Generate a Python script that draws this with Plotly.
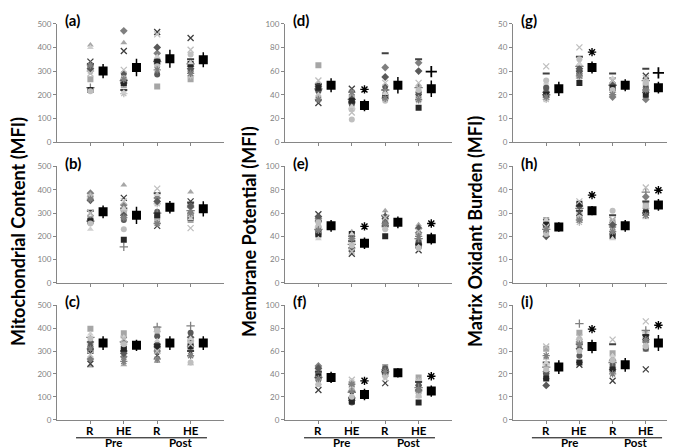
import plotly.graph_objects as go

# ---------------- data ----------------
group_positions = [1, 2, 3, 4]
group_labels = ["R", "HE", "R", "HE"]
phase_labels = ["Pre", "Post"]
panel_labels = ["(a)", "(b)", "(c)", "(d)", "(e)", "(f)", "(g)", "(h)", "(i)"]
column_titles = ["Mitochondrial Content (MFI)", "Membrane Potential (MFI)", "Matrix Oxidant Burden (MFI)"]
y_max = [500, 500, 500, 100, 100, 100, 50, 50, 50]
y_step = [100, 100, 100, 20, 20, 20, 10, 10, 10]

subject_symbols = ["diamond", "square", "triangle-up", "x-thin-open", "asterisk-open", "circle",
                   "cross-thin-open", "line-ew-open", "diamond", "square", "triangle-up",
                   "x-thin-open", "circle", "asterisk-open"]
subject_colors = ["#7f7f7f", "#a6a6a6", "#a6a6a6", "#404040", "#bfbfbf", "#595959",
                  "#808080", "#404040", "#595959", "#262626", "#d0d0d0",
                  "#bfbfbf", "#bfbfbf", "#7f7f7f"]

# per subject: [Pre R, Pre HE, Post R, Post HE]
a_vals = [[300, 470, 375, 320], [265, 240, 235, 265], [410, 420, 350, 340], [340, 385, 465, 440],
          [300, 205, 330, 280], [320, 290, 285, 300], [230, 260, 340, 330], [330, 220, 345, 350],
          [310, 250, 400, 310], [220, 250, 340, 330], [400, 210, 360, 335], [290, 305, 455, 390],
          [215, 270, 320, 370], [325, 265, 305, 290]]
b_vals = [[385, 335, 365, 325], [275, 300, 280, 270], [380, 420, 355, 390], [300, 365, 245, 350],
          [370, 310, 340, 300], [270, 270, 305, 295], [265, 155, 300, 310], [310, 320, 385, 345],
          [355, 290, 350, 330], [265, 185, 290, 280], [230, 320, 380, 275], [300, 350, 405, 235],
          [255, 230, 260, 290], [360, 280, 255, 300]]
c_vals = [[265, 275, 300, 320], [398, 378, 395, 340], [235, 240, 255, 245], [245, 350, 280, 290],
          [330, 330, 385, 345], [320, 310, 365, 380], [360, 340, 405, 410], [310, 300, 320, 300],
          [340, 290, 330, 360], [300, 310, 320, 320], [375, 360, 345, 355], [285, 355, 300, 330],
          [355, 330, 390, 250], [310, 255, 265, 280]]
d_vals = [[47, 33, 63, 67], [65, 38, 40, 40], [50, 40, 45, 48], [33, 45, 42, 38],
          [48, 28, 38, 35], [43, 32, 47, 42], [45, 36, 44, 46], [49, 34, 75, 70],
          [44, 36, 55, 60], [46, 35, 38, 29], [40, 30, 41, 37], [52, 25, 50, 50],
          [38, 19, 35, 44], [36, 42, 37, 36]]
e_vals = [[55, 40, 55, 43], [41, 38, 50, 36], [50, 44, 62, 50], [59, 25, 53, 28],
          [48, 35, 48, 40], [42, 28, 52, 35], [46, 33, 58, 38], [53, 36, 49, 33],
          [57, 30, 57, 47], [42, 42, 40, 32], [38, 42, 47, 31], [50, 27, 56, 44],
          [52, 32, 46, 30], [45, 38, 51, 40]]
f_vals = [[47, 25, 44, 26], [43, 30, 46, 37], [41, 27, 43, 24], [26, 22, 32, 28],
          [39, 33, 40, 34], [35, 15, 45, 30], [37, 24, 42, 28], [42, 19, 43, 33],
          [45, 17, 41, 25], [38, 16, 40, 15], [30, 29, 39, 20], [33, 35, 36, 22],
          [31, 20, 38, 21], [36, 31, 42, 26]]
g_vals = [[21, 30, 19, 18], [22, 28, 23, 24], [24, 33, 25, 27], [19, 31, 26, 28],
          [18, 27, 21, 22], [23, 29, 22, 23], [20, 32, 24, 26], [29, 36, 29, 31],
          [21, 31, 24, 21], [20, 25, 23, 20], [25, 33, 27, 25], [32, 40, 26, 27],
          [26, 35, 22, 25], [19, 28, 20, 22]]
h_vals = [[25, 33, 24, 37], [27, 29, 26, 34], [26, 28, 23, 33], [26, 30, 27, 29],
          [24, 26, 22, 32], [22, 34, 21, 31], [23, 32, 25, 39], [25, 31, 29, 35],
          [20, 33, 25, 30], [25, 34, 20, 30], [27, 27, 19, 28], [24, 35, 27, 41],
          [21, 28, 31, 33], [23, 27, 22, 29]]
i_vals = [[21, 34, 26, 34], [31, 38, 29, 31], [27, 36, 27, 33], [19, 24, 17, 22],
          [24, 35, 23, 38], [20, 28, 24, 31], [23, 42, 25, 39], [25, 33, 33, 37],
          [15, 31, 22, 35], [18, 25, 22, 36], [25, 34, 28, 33], [32, 36, 35, 43],
          [22, 30, 26, 32], [28, 33, 20, 35]]

a_mean, a_err = [300, 315, 352, 348], [30, 37, 38, 32]
b_mean, b_err = [305, 290, 325, 318], [27, 37, 27, 33]
c_mean, c_err = [335, 325, 335, 335], [30, 25, 30, 30]
d_mean, d_err = [48, 31, 48, 45], [6, 5, 7, 7]
e_mean, e_err = [49, 34, 52, 38], [5, 5, 5, 5]
f_mean, f_err = [37, 22, 41, 25], [5, 5, 4, 5]
g_mean, g_err = [22.5, 31.5, 24, 23], [3, 2.5, 2.5, 2.5]
h_mean, h_err = [24, 31, 24.5, 33.5], [2, 2, 2.5, 2.5]
i_mean, i_err = [23, 32, 24, 33.5], [3, 3, 3, 3.5]

# significance marks: (group index, symbol, y value)
d_sig = [(1, "*", 44.5), (3, "+", 59.5)]
e_sig = [(1, "*", 48.5), (3, "*", 51)]
f_sig = [(1, "*", 34), (3, "*", 38)]
g_sig = [(1, "*", 38), (3, "+", 29.2)]
h_sig = [(1, "*", 37.7), (3, "*", 39.8)]
i_sig = [(1, "*", 39.6), (3, "*", 41.3)]

panels = [
    (a_vals, a_mean, a_err, []), (b_vals, b_mean, b_err, []), (c_vals, c_mean, c_err, []),
    (d_vals, d_mean, d_err, d_sig), (e_vals, e_mean, e_err, e_sig), (f_vals, f_mean, f_err, f_sig),
    (g_vals, g_mean, g_err, g_sig), (h_vals, h_mean, h_err, h_sig), (i_vals, i_mean, i_err, i_sig),
]

# ---------------- layout geometry ----------------
W, H = 675, 448
col_x = [(49, 216), (277, 444), (505, 671)]
row_y = [(11, 132), (157, 276), (299, 416)]
mean_offset = 0.38
FONT = "Lato, 'Open Sans', sans-serif"

fig = go.Figure()
layout = dict(
    width=W, height=H, margin=dict(l=0, r=0, t=0, b=0),
    paper_bgcolor="white", plot_bgcolor="white", showlegend=False,
    font=dict(family=FONT, color="black"),
)
annotations = []
shapes = []

for k, (vals, means, errs, sigs) in enumerate(panels):
    col, row = k // 3, k % 3
    n = k + 1
    xa = "x" if n == 1 else f"x{n}"
    ya = "y" if n == 1 else f"y{n}"
    xkey = "xaxis" if n == 1 else f"xaxis{n}"
    ykey = "yaxis" if n == 1 else f"yaxis{n}"
    x0, x1 = col_x[col]
    y0, y1 = row_y[row]
    bottom = row == 2
    layout[xkey] = dict(
        domain=[x0 / W, x1 / W], range=[0, 5], anchor=ya,
        showline=True, linecolor="#868686", linewidth=1,
        showgrid=False, zeroline=False,
        tickmode="array", tickvals=group_positions, ticktext=["" for _ in group_labels],
        ticks="outside", ticklen=3, tickcolor="#868686",
    )
    layout[ykey] = dict(
        domain=[1 - y1 / H, 1 - y0 / H], range=[0, y_max[k]], anchor=xa,
        showline=True, linecolor="#868686", linewidth=1,
        showgrid=False, zeroline=False,
        tickmode="linear", tick0=0, dtick=y_step[k],
        ticks="outside", ticklen=3, tickcolor="#868686",
        tickfont=dict(size=8, color="#7f7f7f", family=FONT),
    )
    # individual subjects
    for s, sv in enumerate(vals):
        sym = subject_symbols[s]
        open_sym = sym.endswith("-open")
        size = 6
        if sym == "line-ew-open":
            size = 5
        fig.add_trace(go.Scatter(
            x=group_positions, y=sv, mode="markers", xaxis=xa, yaxis=ya,
            marker=dict(symbol=sym, size=size, color=subject_colors[s],
                        line=dict(width=2 if sym == "line-ew-open" else (1.3 if open_sym else 0),
                                  color=subject_colors[s])),
            hoverinfo="skip",
        ))
    # means with error bars
    fig.add_trace(go.Scatter(
        x=[g + mean_offset for g in group_positions], y=means, mode="markers",
        xaxis=xa, yaxis=ya,
        marker=dict(symbol="square", size=9, color="black"),
        error_y=dict(type="data", array=errs, visible=True, width=0, thickness=1.5, color="black"),
        hoverinfo="skip",
    ))
    for gi, sym, yv in sigs:
        fig.add_trace(go.Scatter(
            x=[group_positions[gi] + mean_offset], y=[yv], mode="markers", xaxis=xa, yaxis=ya,
            marker=dict(symbol="asterisk-open" if sym == "*" else "cross-thin-open",
                        size=7 if sym == "*" else 8, color="black",
                        line=dict(width=1.4 if sym == "*" else 1.8, color="black")),
            hoverinfo="skip",
        ))
    # panel letter
    annotations.append(dict(
        x=(x0 + 6) / W, y=1 - (y0 - 4) / H, xref="paper", yref="paper",
        text=f"<b>{panel_labels[k]}</b>", showarrow=False, xanchor="left", yanchor="middle",
        font=dict(size=15, color="black", family=FONT),
    ))
    if bottom:
        for gp, gl in zip(group_positions, group_labels):
            annotations.append(dict(
                x=gp, y=1 - 427.5 / H, xref=xa, yref="paper", text=f"<b>{gl}</b>",
                showarrow=False, xanchor="center", yanchor="middle",
                font=dict(size=11.5, color="black", family=FONT),
            ))
        shapes.append(dict(type="line", xref=xa, yref="paper", x0=0.57, x1=4.49,
                           y0=1 - 434.5 / H, y1=1 - 434.5 / H, line=dict(color="black", width=1)))
        for p, px in zip(phase_labels, [1.7, 3.7]):
            annotations.append(dict(
                x=px, y=1 - 439 / H, xref=xa, yref="paper", text=f"<b>{p}</b>",
                showarrow=False, xanchor="center", yanchor="middle", borderpad=0,
                font=dict(size=11.5, color="black", family=FONT),
            ))

# column titles
for c, (t, cx) in enumerate(zip(column_titles, [10, 241, 467])):
    annotations.append(dict(
        x=cx / W, y=0.5, xref="paper", yref="paper", text=f"<b>{t}</b>", textangle=-90,
        showarrow=False, xanchor="center", yanchor="middle",
        font=dict(size=18, color="black", family=FONT),
    ))

layout["annotations"] = annotations
layout["shapes"] = shapes
fig.update_layout(**layout)
fig.write_html("out.html")
